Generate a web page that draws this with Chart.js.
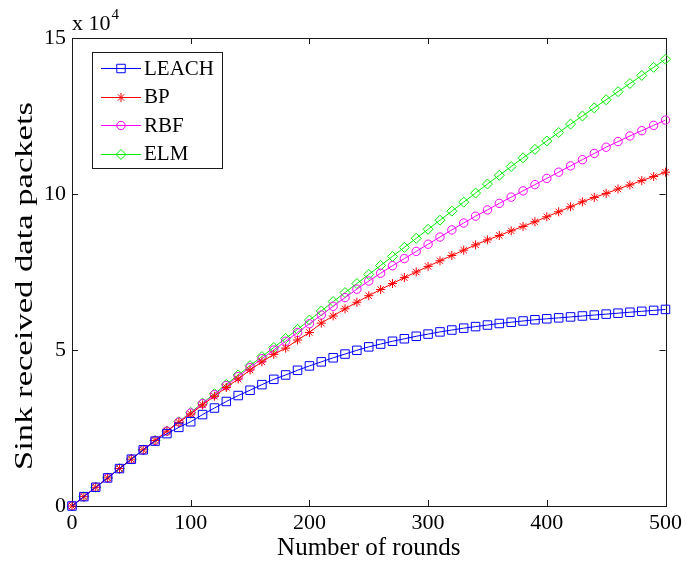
<!DOCTYPE html>
<html>
<head>
<meta charset="utf-8">
<script src="https://cdn.jsdelivr.net/npm/chart.js@4/dist/chart.umd.min.js"></script>
<style>
  body { margin: 0; background: #fff; }
  canvas { display: block; }
</style>
</head>
<body>
<canvas id="sinkChart" width="686" height="565"></canvas>
<script>
// Rounds (x axis), every 10 rounds
const rounds = [0, 10, 20, 30, 40, 50, 60, 70, 80, 90, 100, 110, 120, 130, 140, 150, 160, 170, 180, 190, 200,
    210, 220, 230, 240, 250, 260, 270, 280, 290, 300, 310, 320, 330, 340, 350, 360, 370, 380, 390, 400,
    410, 420, 430, 440, 450, 460, 470, 480, 490, 500];

// Sink received data packets per protocol
const leach = [0, 3000, 6000, 9000, 12000, 15000, 18000, 20800, 23200, 25200, 27000, 29300, 31400, 33500, 35400,
    37100, 38900, 40600, 42000, 43500, 44900, 46200, 47500, 48700, 49900, 51000, 51900, 52800, 53600, 54400,
    55100, 55800, 56400, 57000, 57500, 58000, 58500, 58900, 59300, 59700, 60000, 60300, 60600, 60900, 61200,
    61500, 61800, 62100, 62400, 62700, 63000];
const bp = [0, 3000, 6000, 9000, 12000, 15000, 18000, 21000, 24000, 26800, 29500, 32400, 35200, 38000, 40700,
    43600, 46200, 48600, 50600, 53200, 55600, 58600, 60900, 63200, 65300, 67400, 69400, 71300, 73200, 75000,
    76800, 78600, 80300, 82000, 83700, 85300, 86700, 88200, 89600, 91100, 92700, 94300, 95900, 97500, 98900,
    100200, 101600, 102900, 104300, 105600, 107000];
const rbf = [0, 3000, 6000, 9000, 12000, 15000, 18000, 21000, 24000, 26900, 29800, 32800, 35700, 38600, 41500,
    44400, 47200, 50000, 52800, 55600, 58400, 61200, 64000, 66800, 69500, 72100, 74600, 77000, 79300, 81600,
    83900, 86200, 88500, 90700, 92900, 94900, 97000, 99000, 101000, 103000, 105000, 107000, 109000, 111000, 113000,
    115000, 116800, 118600, 120300, 122000, 123700];
const elm = [0, 3000, 6000, 9000, 12000, 15000, 18000, 21000, 24000, 27000, 30000, 33000, 36000, 39000, 42000,
    45000, 47900, 50800, 53700, 56600, 59600, 62500, 65500, 68400, 71300, 74200, 77100, 80000, 82900, 85800,
    88700, 91600, 94500, 97400, 100300, 103200, 106000, 108800, 111600, 114300, 117000, 119700, 122400, 125000, 127600,
    130200, 132800, 135400, 138000, 140600, 143200];

const seriesNames = ['LEACH', 'BP', 'RBF', 'ELM'];
const xTicks = [0, 100, 200, 300, 400, 500];
const yTicks = [0, 50000, 100000, 150000];

const serif = '"Liberation Serif", "Times New Roman", serif';

function makeSet(label, values, color, style, radius) {
    return {
        label: label,
        data: rounds.map((r, i) => ({ x: r, y: values[i] })),
        borderColor: color,
        backgroundColor: 'rgba(0,0,0,0)',
        borderWidth: 1,
        pointStyle: style,
        pointRadius: radius,
        pointBorderWidth: 1,
        pointBorderColor: color,
        pointBackgroundColor: 'rgba(0,0,0,0)',
        tension: 0,
        clip: false
    };
}

const datasets = [
    makeSet(seriesNames[0], leach, '#0000ff', 'rect', 6),
    makeSet(seriesNames[1], bp, '#ff0000', 'star', 4.5),
    makeSet(seriesNames[2], rbf, '#ff00ff', 'circle', 4.2),
    makeSet(seriesNames[3], elm, '#00ee00', 'rectRot', 5)
];

// Box round the axes and inward ticks, like MATLAB
const framePlugin = {
    id: 'frame',
    beforeDatasetsDraw(chart) {
        const { ctx, chartArea: a, scales } = chart;
        ctx.save();
        ctx.strokeStyle = '#1a1a1a';
        ctx.lineWidth = 1;
        ctx.strokeRect(Math.round(a.left) + 0.5, Math.round(a.top) + 0.5,
            Math.round(a.right - a.left), Math.round(a.bottom - a.top));
        ctx.beginPath();
        xTicks.forEach(v => {
            const px = Math.round(scales.x.getPixelForValue(v)) + 0.5;
            ctx.moveTo(px, a.bottom);
            ctx.lineTo(px, a.bottom - 6);
            ctx.moveTo(px, a.top);
            ctx.lineTo(px, a.top + 6);
        });
        yTicks.forEach(v => {
            const py = Math.round(scales.y.getPixelForValue(v)) + 0.5;
            ctx.moveTo(a.left, py);
            ctx.lineTo(a.left + 6, py);
            ctx.moveTo(a.right, py);
            ctx.lineTo(a.right - 6, py);
        });
        ctx.stroke();
        ctx.restore();
    },
    afterDraw(chart) {
        const { ctx, chartArea: a } = chart;
        ctx.save();
        ctx.fillStyle = '#000';

        // exponent label above the y axis
        ctx.font = '22px ' + serif;
        ctx.textBaseline = 'alphabetic';
        ctx.textAlign = 'left';
        ctx.fillText('x 10', a.left, 30);
        const w = ctx.measureText('x 10').width;
        ctx.font = '15px ' + serif;
        ctx.fillText('4', a.left + w + 1, 19);

        // y axis title, stretched a little like the original
        const title = 'Sink received data packets';
        ctx.font = '26px ' + serif;
        const tw = ctx.measureText(title).width;
        ctx.translate(25, 286);
        ctx.rotate(-Math.PI / 2);
        ctx.scale(368 / tw, 1);
        ctx.textAlign = 'center';
        ctx.textBaseline = 'middle';
        ctx.fillText(title, 0, 0);
        ctx.restore();
    }
};

// Legend box inside the plot, top left
const legendPlugin = {
    id: 'insideLegend',
    afterDatasetsDraw(chart) {
        const ctx = chart.ctx;
        const box = { x: 92, y: 52, w: 130, h: 116 };
        ctx.save();
        ctx.fillStyle = '#fff';
        ctx.fillRect(box.x, box.y, box.w, box.h);
        ctx.strokeStyle = '#1a1a1a';
        ctx.lineWidth = 1;
        ctx.strokeRect(box.x + 0.5, box.y + 0.5, box.w, box.h);
        ctx.font = '21px ' + serif;
        ctx.textBaseline = 'middle';
        ctx.textAlign = 'left';
        chart.data.datasets.forEach((ds, i) => {
            const y = 68 + i * 28.5;
            ctx.strokeStyle = ds.borderColor;
            ctx.lineWidth = 1;
            ctx.beginPath();
            ctx.moveTo(101, Math.round(y) + 0.5);
            ctx.lineTo(141, Math.round(y) + 0.5);
            ctx.stroke();
            if (Chart.helpers && Chart.helpers.drawPoint) {
                ctx.fillStyle = 'rgba(0,0,0,0)';
                Chart.helpers.drawPoint(ctx, {
                    pointStyle: ds.pointStyle,
                    radius: ds.pointRadius,
                    borderWidth: 1,
                    rotation: 0
                }, 121, Math.round(y) + 0.5);
            }
            ctx.fillStyle = '#000';
            ctx.fillText(ds.label, 144, y + 1);
        });
        ctx.restore();
    }
};

const ctx = document.getElementById('sinkChart').getContext('2d');
new Chart(ctx, {
    type: 'line',
    data: { datasets: datasets },
    options: {
        responsive: false,
        animation: false,
        events: [],
        layout: { padding: { top: 38, right: 19, left: 0, bottom: 0 } },
        plugins: {
            legend: { display: false },
            tooltip: { enabled: false }
        },
        scales: {
            x: {
                type: 'linear',
                min: 0,
                max: 500,
                afterBuildTicks: s => { s.ticks = xTicks.map(v => ({ value: v })); },
                afterFit: s => { s.height = 59; },
                ticks: { color: '#000', padding: 4, maxRotation: 0, font: { family: serif, size: 22 } },
                grid: { display: false, drawTicks: false },
                border: { display: false },
                title: {
                    display: true,
                    text: 'Number of rounds',
                    color: '#000',
                    font: { family: serif, size: 25 },
                    padding: { top: 0, bottom: 2 }
                }
            },
            y: {
                type: 'linear',
                min: 0,
                max: 150000,
                afterBuildTicks: s => { s.ticks = yTicks.map(v => ({ value: v })); },
                afterFit: s => { s.width = 72; },
                ticks: {
                    color: '#000',
                    padding: 6,
                    font: { family: serif, size: 22 },
                    callback: v => v / 10000
                },
                grid: { display: false, drawTicks: false },
                border: { display: false }
            }
        }
    },
    plugins: [framePlugin, legendPlugin]
});
</script>
</body>
</html>
